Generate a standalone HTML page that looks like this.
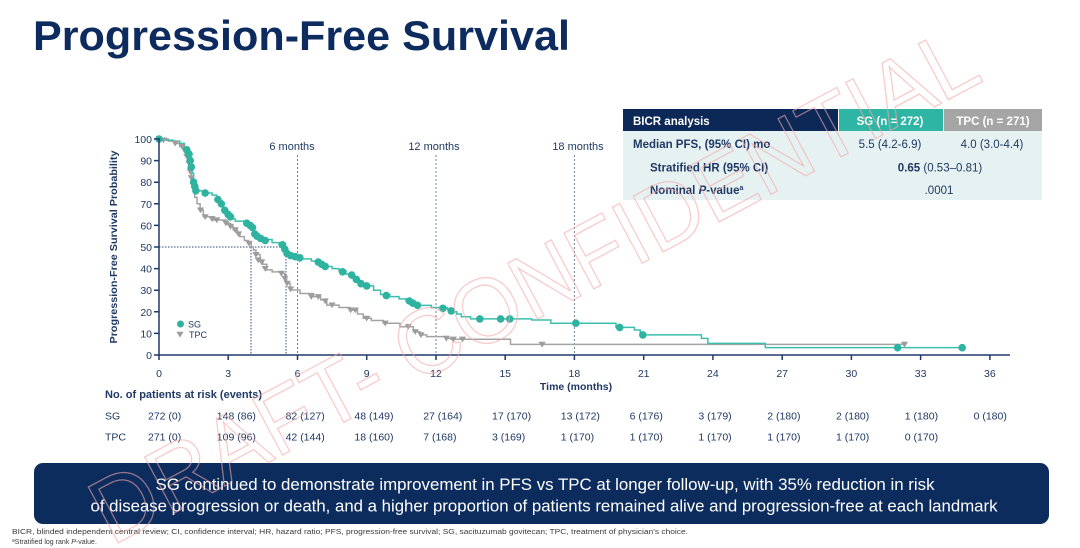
<!DOCTYPE html>
<html>
<head>
<meta charset="utf-8">
<style>
html,body{margin:0;padding:0;background:#fff;}
svg{display:block;}
text{font-family:"Liberation Sans",Arial,sans-serif;}
</style>
</head>
<body>
<svg width="1080" height="548" viewBox="0 0 1080 548" xmlns="http://www.w3.org/2000/svg">
<defs>
  <path id="tri" d="M-3.6,-2.6 L3.6,-2.6 L0,3.2 Z" fill="#9c9c9c"/>
</defs>
<rect width="1080" height="548" fill="#ffffff"/>

<!-- Title -->
<text x="33" y="50" font-size="42" font-weight="bold" fill="#0d2b5e" textLength="537" lengthAdjust="spacingAndGlyphs">Progression-Free Survival</text>

<!-- Table -->
<rect x="623" y="131" width="419" height="69" fill="#e6f2f2"/>
<rect x="623" y="109" width="215" height="22" fill="#0c2857"/>
<rect x="839" y="109" width="104" height="22" fill="#2fb5a4"/>
<rect x="944" y="109" width="98" height="22" fill="#a5a5a5"/>
<text x="633" y="125" font-size="11.5" font-weight="bold" fill="#ffffff">BICR analysis</text>
<text x="890" y="125" font-size="11.5" font-weight="bold" fill="#ffffff" text-anchor="middle">SG (n = 272)</text>
<text x="993" y="125" font-size="11.5" font-weight="bold" fill="#ffffff" text-anchor="middle">TPC (n = 271)</text>
<text x="633" y="148" font-size="11.5" font-weight="bold" fill="#1f3864">Median PFS, (95% CI) mo</text>
<text x="890" y="148" font-size="11.5" fill="#1f3864" text-anchor="middle">5.5 (4.2-6.9)</text>
<text x="992" y="148" font-size="11.5" fill="#1f3864" text-anchor="middle">4.0 (3.0-4.4)</text>
<text x="650" y="171.5" font-size="11.5" font-weight="bold" fill="#1f3864">Stratified HR (95% CI)</text>
<text x="940" y="171.5" font-size="11.5" fill="#1f3864" text-anchor="middle"><tspan font-weight="bold">0.65</tspan> (0.53–0.81)</text>
<text x="650" y="194" font-size="11.5" font-weight="bold" fill="#1f3864">Nominal <tspan font-style="italic">P</tspan>-value<tspan font-size="7" dy="-4">a</tspan></text>
<text x="939" y="194" font-size="11.5" fill="#1f3864" text-anchor="middle">.0001</text>

<!-- Landmark lines -->
<g stroke="#6d7c93" stroke-width="1" stroke-dasharray="2,2" fill="none">
  <line x1="297.5" y1="155" x2="297.5" y2="355"/>
  <line x1="436" y1="155" x2="436" y2="355"/>
  <line x1="574.4" y1="155" x2="574.4" y2="355"/>
</g>
<text x="292" y="150" font-size="11" fill="#1f3864" text-anchor="middle">6 months</text>
<text x="434" y="150" font-size="11" fill="#1f3864" text-anchor="middle">12 months</text>
<text x="578" y="150" font-size="11" fill="#1f3864" text-anchor="middle">18 months</text>

<!-- Median lines -->
<g stroke="#2c4a7a" stroke-width="1" stroke-dasharray="1.5,1.5" fill="none">
  <line x1="159" y1="247" x2="286" y2="247"/>
  <line x1="251" y1="247" x2="251" y2="355"/>
  <line x1="286" y1="247" x2="286" y2="355"/>
</g>

<!-- KM curves -->
<g transform="matrix(23.08,0,0,-2.16,159,355)" fill="none">
  <path vector-effect="non-scaling-stroke" stroke="#a3a3a3" stroke-width="1.5" d="M0,100 H0.4 V99 H0.7 V98 H0.9 V96.5 H1.05 V95 H1.15 V93.4 H1.25 V91 H1.3 V88.7 H1.35 V84 H1.4 V80 H1.45 V77.9 H1.55 V73 H1.65 V70 H1.78 V67.1 H1.92 V64 H2.35 V62.5 H2.93 V61 H3.1 V59.5 H3.22 V57.9 H3.4 V56 H3.51 V54.8 H3.7 V53 H3.87 V51.7 H4.0 V50 H4.09 V48.6 H4.2 V46.5 H4.38 V44 H4.5 V42 H4.67 V39.4 H4.9 V38.5 H5.32 V37.8 H5.45 V35.5 H5.53 V33.2 H5.68 V30.1 H6.11 V28.5 H6.69 V27 H7.0 V25.5 H7.27 V23.1 H7.8 V22 H8.28 V20.8 H8.6 V19 H8.85 V17 H9.2 V16 H9.72 V14.7 H10.44 V13.1 H11.02 V10.8 H11.3 V9.3 H11.6 V8.5 H12.47 V7.7 H12.66 V7.3 H15.23 V4.9 H32.3"/>
  <path vector-effect="non-scaling-stroke" stroke="#3dbfae" stroke-width="1.5" d="M0,100 H0.3 V99.5 H0.6 V99 H0.9 V98 H1.1 V96 H1.2 V95 H1.25 V93 H1.3 V91 H1.35 V89 H1.4 V87 H1.45 V84 H1.5 V80 H1.55 V78 H1.6 V76 H1.9 V75 H2.3 V74 H2.5 V72 H2.65 V70 H2.8 V67 H2.95 V65 H3.1 V63 H3.3 V62 H3.7 V61 H3.9 V60 H4.0 V58 H4.1 V56 H4.2 V55 H4.5 V53.5 H4.9 V52 H5.2 V51 H5.4 V49 H5.5 V47 H5.65 V46 H5.85 V45.5 H6.2 V44.5 H6.6 V43.5 H6.95 V42 H7.15 V41 H7.5 V40 H7.8 V39 H8.1 V37.5 H8.4 V36 H8.55 V34.5 H8.75 V33 H9.0 V32 H9.3 V30 H9.6 V28 H10.0 V27 H10.4 V26 H10.7 V25 H11.0 V24 H11.2 V23 H11.8 V22 H12.5 V21 H12.7 V20 H12.9 V19 H13.1 V17.7 H13.5 V16.7 H16.15 V16.2 H16.98 V14.7 H19.8 V12.8 H20.6 V11.6 H20.85 V10.3 H21.0 V9.3 H23.5 V7.7 H23.78 V5.4 H26.27 V3.4 H34.8"/>
</g>

<!-- TPC markers -->
<g>
<use href="#tri" x="163.6" y="140.1"/><use href="#tri" x="175.2" y="143.3"/><use href="#tri" x="182.1" y="146.6"/>
<use href="#tri" x="184.4" y="149.8"/><use href="#tri" x="186.7" y="156.3"/><use href="#tri" x="189" y="163.4"/>
<use href="#tri" x="190.2" y="171.4"/><use href="#tri" x="191.3" y="177.9"/><use href="#tri" x="200.5" y="210.1"/>
<use href="#tri" x="205.2" y="216.8"/><use href="#tri" x="212.1" y="218.9"/><use href="#tri" x="216.7" y="220"/>
<use href="#tri" x="225.9" y="223.2"/><use href="#tri" x="230.5" y="226.5"/><use href="#tri" x="235.2" y="229.9"/>
<use href="#tri" x="238.6" y="234"/><use href="#tri" x="249" y="243.3"/><use href="#tri" x="255.9" y="254.6"/>
<use href="#tri" x="258.2" y="260"/><use href="#tri" x="261.7" y="262.1"/><use href="#tri" x="265.2" y="268.6"/>
<use href="#tri" x="281.3" y="273.4"/><use href="#tri" x="284.8" y="278.3"/><use href="#tri" x="287.1" y="283.3"/>
<use href="#tri" x="290.6" y="289.1"/><use href="#tri" x="311.3" y="296.7"/><use href="#tri" x="318.3" y="296.7"/>
<use href="#tri" x="325.2" y="301"/><use href="#tri" x="332.1" y="305.1"/><use href="#tri" x="350.6" y="310.1"/>
<use href="#tri" x="355.2" y="310.1"/><use href="#tri" x="366.7" y="318.3"/><use href="#tri" x="385.2" y="323.2"/>
<use href="#tri" x="408.3" y="326.7"/><use href="#tri" x="415.2" y="331.7"/><use href="#tri" x="421" y="334.9"/>
<use href="#tri" x="446.3" y="338.4"/><use href="#tri" x="453.3" y="339.2"/><use href="#tri" x="462.5" y="339.2"/>
<use href="#tri" x="542.1" y="344.4"/><use href="#tri" x="904.5" y="344.4"/>
</g>

<!-- SG markers -->
<g fill="#2fb3a1">
<circle cx="159" cy="139" r="3.8"/><circle cx="186.7" cy="149.8" r="3.8"/><circle cx="189" cy="154.1" r="3.8"/>
<circle cx="190.2" cy="160.6" r="3.8"/><circle cx="191.3" cy="167.1" r="3.8"/><circle cx="193.6" cy="182.2" r="3.8"/>
<circle cx="194.8" cy="186.5" r="3.8"/><circle cx="195.9" cy="190.8" r="3.8"/><circle cx="205.2" cy="193" r="3.8"/>
<circle cx="217.9" cy="199.5" r="3.8"/><circle cx="221.3" cy="203.8" r="3.8"/><circle cx="224.8" cy="210.3" r="3.8"/>
<circle cx="228.2" cy="214.6" r="3.8"/><circle cx="230.5" cy="216.8" r="3.8"/><circle cx="246.7" cy="223.2" r="3.8"/>
<circle cx="250.2" cy="225.4" r="3.8"/><circle cx="252.5" cy="227.6" r="3.8"/><circle cx="254.8" cy="234" r="3.8"/>
<circle cx="257.1" cy="236.2" r="3.8"/><circle cx="260.6" cy="238.4" r="3.8"/><circle cx="265.2" cy="240.5" r="3.8"/>
<circle cx="282.5" cy="244.8" r="3.8"/><circle cx="284.8" cy="249.2" r="3.8"/><circle cx="287.1" cy="253.5" r="3.8"/>
<circle cx="290.6" cy="255.6" r="3.8"/><circle cx="295.2" cy="256.7" r="3.8"/><circle cx="299.8" cy="257.8" r="3.8"/>
<circle cx="318.3" cy="262.1" r="3.8"/><circle cx="321.7" cy="264.3" r="3.8"/><circle cx="325.2" cy="266.4" r="3.8"/>
<circle cx="342.5" cy="271.8" r="3.8"/><circle cx="351.7" cy="275.1" r="3.8"/><circle cx="356.3" cy="279.4" r="3.8"/>
<circle cx="360.9" cy="283.7" r="3.8"/><circle cx="366.7" cy="285.9" r="3.8"/><circle cx="386.3" cy="295.6" r="3.8"/>
<circle cx="409.4" cy="301" r="3.8"/><circle cx="412.9" cy="303.2" r="3.8"/><circle cx="417.5" cy="305.3" r="3.8"/>
<circle cx="442.9" cy="308.3" r="3.8"/><circle cx="451.2" cy="310.9" r="3.8"/><circle cx="479.8" cy="318.9" r="3.8"/>
<circle cx="500.6" cy="318.9" r="3.8"/><circle cx="509.8" cy="318.9" r="3.8"/><circle cx="575.8" cy="323.2" r="3.8"/>
<circle cx="619.7" cy="327.4" r="3.8"/><circle cx="642.8" cy="334.9" r="3.8"/><circle cx="897.6" cy="347.7" r="3.8"/>
<circle cx="962.2" cy="347.7" r="3.8"/>
</g>

<!-- Axes -->
<g stroke="#1f3a6a" stroke-width="1.5" fill="none">
  <line x1="159" y1="138" x2="159" y2="355.7"/>
  <line x1="158.3" y1="355" x2="1010" y2="355"/>
  <path d="M154,139H159 M154,160.6H159 M154,182.2H159 M154,203.8H159 M154,225.4H159 M154,247H159 M154,268.6H159 M154,290.2H159 M154,311.8H159 M154,333.4H159 M154,355H159"/>
  <path d="M159,355V360 M228.2,355V360 M297.5,355V360 M366.7,355V360 M436,355V360 M505.2,355V360 M574.4,355V360 M643.7,355V360 M712.9,355V360 M782.2,355V360 M851.4,355V360 M920.6,355V360 M989.9,355V360"/>
</g>
<g font-size="10.5" fill="#1f3864" text-anchor="end">
  <text x="152" y="143">100</text><text x="152" y="164.6">90</text><text x="152" y="186.2">80</text>
  <text x="152" y="207.8">70</text><text x="152" y="229.4">60</text><text x="152" y="251">50</text>
  <text x="152" y="272.6">40</text><text x="152" y="294.2">30</text><text x="152" y="315.8">20</text>
  <text x="152" y="337.4">10</text><text x="152" y="359">0</text>
</g>
<g font-size="10.5" fill="#1f3864" text-anchor="middle">
  <text x="159" y="377">0</text><text x="228.2" y="377">3</text><text x="297.5" y="377">6</text>
  <text x="366.7" y="377">9</text><text x="436" y="377">12</text><text x="505.2" y="377">15</text>
  <text x="574.4" y="377">18</text><text x="643.7" y="377">21</text><text x="712.9" y="377">24</text>
  <text x="782.2" y="377">27</text><text x="851.4" y="377">30</text><text x="920.6" y="377">33</text>
  <text x="989.9" y="377">36</text>
</g>
<text x="576" y="390" font-size="10.5" font-weight="bold" fill="#1f3864" text-anchor="middle">Time (months)</text>
<text transform="translate(117,247) rotate(-90)" x="0" y="0" font-size="10.5" font-weight="bold" fill="#1f3864" text-anchor="middle" textLength="193" lengthAdjust="spacingAndGlyphs">Progression-Free Survival Probability</text>

<!-- Legend -->
<circle cx="180.5" cy="324" r="3.5" fill="#2fb3a1"/>
<text x="188" y="327.5" font-size="9" fill="#1f3864">SG</text>
<use href="#tri" x="180" y="334.3"/>
<text x="189" y="337.8" font-size="9" fill="#1f3864">TPC</text>

<!-- Risk table -->
<text x="105" y="398" font-size="11" font-weight="bold" fill="#1f3864">No. of patients at risk (events)</text>
<g font-size="10.5" fill="#1f3864">
  <text x="105" y="419.5">SG</text>
  <text x="148" y="419.5">272 (0)</text><text x="216.8" y="419.5">148 (86)</text><text x="285.6" y="419.5">82 (127)</text>
  <text x="354.4" y="419.5">48 (149)</text><text x="423.2" y="419.5">27 (164)</text><text x="492" y="419.5">17 (170)</text>
  <text x="560.8" y="419.5">13 (172)</text><text x="629.6" y="419.5">6 (176)</text><text x="698.4" y="419.5">3 (179)</text>
  <text x="767.2" y="419.5">2 (180)</text><text x="836" y="419.5">2 (180)</text><text x="904.8" y="419.5">1 (180)</text>
  <text x="973.6" y="419.5">0 (180)</text>
  <text x="105" y="440.5">TPC</text>
  <text x="148" y="440.5">271 (0)</text><text x="216.8" y="440.5">109 (96)</text><text x="285.6" y="440.5">42 (144)</text>
  <text x="354.4" y="440.5">18 (160)</text><text x="423.2" y="440.5">7 (168)</text><text x="492" y="440.5">3 (169)</text>
  <text x="560.8" y="440.5">1 (170)</text><text x="629.6" y="440.5">1 (170)</text><text x="698.4" y="440.5">1 (170)</text>
  <text x="767.2" y="440.5">1 (170)</text><text x="836" y="440.5">1 (170)</text><text x="904.8" y="440.5">0 (170)</text>
</g>

<!-- Banner -->
<rect x="34" y="463" width="1015" height="61" rx="9" ry="9" fill="#0d2c5e"/>
<text x="545" y="490" font-size="16.5" fill="#ffffff" text-anchor="middle" textLength="779" lengthAdjust="spacingAndGlyphs">SG continued to demonstrate improvement in PFS vs TPC at longer follow-up, with 35% reduction in risk</text>
<text x="544" y="511.5" font-size="16.5" fill="#ffffff" text-anchor="middle" textLength="907" lengthAdjust="spacingAndGlyphs">of disease progression or death, and a higher proportion of patients remained alive and progression-free at each landmark</text>

<!-- Footnotes -->
<text x="12" y="534" font-size="7" fill="#3a3a3a" textLength="676" lengthAdjust="spacingAndGlyphs">BICR, blinded independent central review; CI, confidence interval; HR, hazard ratio; PFS, progression-free survival; SG, sacituzumab govitecan; TPC, treatment of physician's choice.</text>
<text x="12" y="544" font-size="7" fill="#3a3a3a"><tspan font-size="5" dy="-2">a</tspan><tspan dy="2">Stratified log rank </tspan><tspan font-style="italic">P</tspan>-value.</text>

<!-- Watermark -->
<text transform="rotate(-28.1 533 284)" x="533" y="317" font-size="92" fill="none" stroke="#f4a9a9" stroke-width="1.3" stroke-opacity="0.6" text-anchor="middle" textLength="990" lengthAdjust="spacingAndGlyphs">DRAFT- CONFIDENTIAL</text>
</svg>
</body>
</html>
